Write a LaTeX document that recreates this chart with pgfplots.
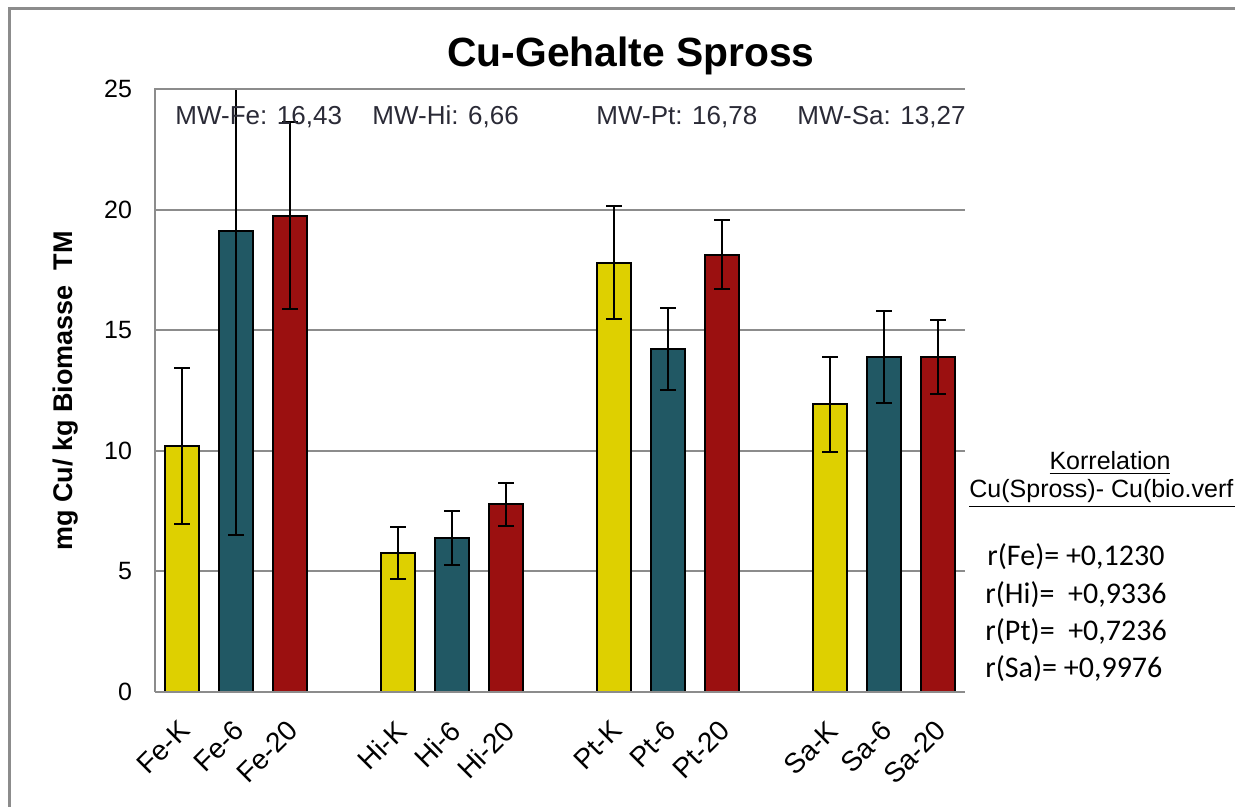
\documentclass[border=0pt]{standalone}
\usepackage{fontspec}
\setmainfont{Liberation Sans}
\newfontfamily\calib{Carlito}
\usepackage{pgfplots}
\pgfplotsset{compat=1.18}
\definecolor{cy}{HTML}{DED000}
\definecolor{ct}{HTML}{215864}
\definecolor{cr}{HTML}{9B1010}
\definecolor{cg}{HTML}{8C8C8C}
\definecolor{mwc}{HTML}{2A2A36}
\begin{document}
\begin{tikzpicture}
\path[use as bounding box, clip] (-77.5pt,-57.5pt) rectangle (540pt,346pt);
\fill[white] (-77.5pt,-57.5pt) rectangle (540pt,346pt);
\draw[cg, line width=1.5pt] (-72.5pt,-80pt) -- (-72.5pt,341.5pt) -- (560pt,341.5pt);
\begin{axis}[
  at={(0,0)}, anchor=south west, scale only axis,
  width=405pt, height=301.5pt,
  xmin=-0.5, xmax=14.5, ymin=0, ymax=25,
  ytick={0,5,10,15,20,25},
  xtick={0,1,2,4,5,6,8,9,10,12,13,14},
  xticklabels={Fe-K,Fe-6,Fe-20,Hi-K,Hi-6,Hi-20,Pt-K,Pt-6,Pt-20,Sa-K,Sa-6,Sa-20},
  major tick length=0pt,
  axis line style={draw=none},
  ymajorgrids, grid style={cg, line width=1pt},
  /pgf/number format/assume math mode=true,
  yticklabel style={font=\fontsize{12.5}{14}\selectfont, anchor=east, xshift=-8pt},
  xticklabel style={font=\fontsize{14}{16}\selectfont, xshift=-2pt, yshift=-8.5pt, rotate=45, anchor=north east},
  error bars/error bar style={line width=1pt, black},
  error bars/error mark options={rotate=90, mark size=4pt, line width=1pt, black},
]
\addplot[ybar, bar width=0.63, bar shift=0pt, fill=cy, draw=black, line width=1pt,
  error bars/.cd, y dir=both, y explicit]
  coordinates {(0,10.2) +- (0,3.25) (4,5.75) +- (0,1.07) (8,17.8) +- (0,2.34) (12,11.92) +- (0,1.95)};
\addplot[ybar, bar width=0.63, bar shift=0pt, fill=ct, draw=black, line width=1pt,
  error bars/.cd, y dir=both, y explicit]
  coordinates {(1,19.12) +- (0,12.6) (5,6.37) +- (0,1.12) (9,14.2) +- (0,1.7) (13,13.9) +- (0,1.9)};
\addplot[ybar, bar width=0.63, bar shift=0pt, fill=cr, draw=black, line width=1pt,
  error bars/.cd, y dir=both, y explicit]
  coordinates {(2,19.74) +- (0,3.88) (6,7.78) +- (0,0.9) (10,18.13) +- (0,1.43) (14,13.9) +- (0,1.53)};
\end{axis}
\draw[cg, line width=1pt] (0,0) -- (0,301.5pt) -- (405pt,301.5pt);
\draw[cg, line width=1pt] (0,0) -- (405pt,0);
\node[anchor=base, font=\bfseries\fontsize{20.4}{24}\selectfont] at (238pt,312.5pt) {Cu-Gehalte Spross};
\node[rotate=90, font=\bfseries\fontsize{13.5}{16}\selectfont] at (-44.5pt,150.5pt) {mg Cu/ kg Biomasse\ \ TM};
\begin{scope}[every node/.style={anchor=base west, inner sep=0pt, text=mwc, font=\fontsize{13}{15}\selectfont}]
\node at (10pt,283.5pt) {MW-Fe: 16,43};
\node at (108.5pt,283.5pt) {MW-Hi: 6,66};
\node at (220.5pt,283.5pt) {MW-Pt: 16,78};
\node at (321pt,283.5pt) {MW-Sa: 13,27};
\end{scope}
\node[anchor=base, inner sep=0pt, font=\fontsize{12.5}{15}\selectfont] at (477.5pt,111pt) {\underline{Korrelation}};
\node[anchor=base west, inner sep=0pt, font=\fontsize{12.5}{15}\selectfont] at (407pt,97pt) {\underline{Cu(Spross)- Cu(bio.verf.)}};
\begin{scope}[every node/.style={anchor=base west, inner sep=0pt, font=\calib\fontsize{15}{18}\selectfont}]
\node at (416pt,63pt) {r(Fe)= +0,1230};
\node at (415pt,44pt) {r(Hi)=\ \ +0,9336};
\node at (415pt,25.5pt) {r(Pt)=\ \ +0,7236};
\node at (415pt,7pt) {r(Sa)= +0,9976};
\end{scope}
\end{tikzpicture}
\end{document}
